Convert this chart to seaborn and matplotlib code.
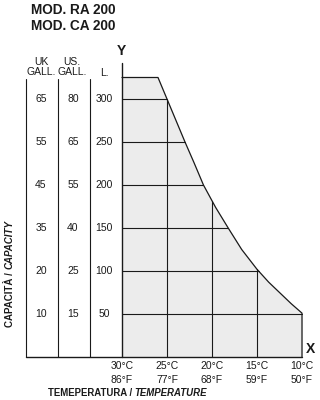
import numpy as np
import matplotlib
matplotlib.use("Agg")
import matplotlib.pyplot as plt
import seaborn as sns

sns.set_style("white")
plt.rcParams['font.family'] = ['Liberation Sans', 'DejaVu Sans']

# ---- data ----
titles = ["MOD. RA 200", "MOD. CA 200"]
temps_c = [30, 25, 20, 15, 10]
temps_f = [86, 77, 68, 59, 50]
litres = [300, 250, 200, 150, 100, 50]
uk_gall = [65, 55, 45, 35, 20, 10]
us_gall = [80, 65, 55, 40, 25, 15]
col_headers = ["UK\nGALL.", "US.\nGALL.", "L."]
# boundary of the capacity region (temperature °C, capacity L)
curve_temp = [30, 26, 25, 24, 23, 22, 20.95, 19.6, 18.2, 16.7, 15, 13.7, 12.4, 11.2, 10, 10]
curve_cap = [325, 325, 300, 275, 250, 226, 200, 174, 150, 125, 102, 87, 74, 62, 51, 0]

W, H = 320, 400
fig = plt.figure(figsize=(W / 100, H / 100), dpi=100)
ax = fig.add_axes([0, 0, 1, 1])

def px2c(px):
    return 30 - (px - 122) / 9.0

def py2l(py):
    return (357 - py) / 0.86

ax.set_xlim(px2c(0), px2c(W))
ax.set_ylim(py2l(H), py2l(0))
ax.axis("off")

ink = "#1a1a1a"
fill_c = "#ececec"

# shaded region
ax.fill_betweenx(curve_cap, curve_temp, 30, color=fill_c, lw=0, zorder=1)

# grid inside region
ct = np.array(curve_temp)
cc = np.array(curve_cap)
for L in litres:
    idx = np.argsort(cc[1:-1])
    tx = np.interp(L, cc[1:-1][idx], ct[1:-1][idx])
    ax.plot([30, tx], [L, L], color=ink, lw=0.8, zorder=2)
for T in temps_c[1:-1]:
    idx = np.argsort(ct[1:-1])
    top = np.interp(T, ct[1:-1][idx], cc[1:-1][idx])
    ax.plot([T, T], [0, top], color=ink, lw=0.8, zorder=2)

# outline
sns.lineplot(x=curve_temp, y=curve_cap, sort=False, estimator=None,
             color=ink, lw=0.9, ax=ax, zorder=3)

# axes lines
ax.plot([30, 30], [0, py2l(63)], color=ink, lw=1.0, zorder=4)
ax.plot([px2c(26), 10], [0, 0], color=ink, lw=1.0, zorder=4)

# table columns
col_x_px = [26, 58, 90]
for cx in col_x_px:
    ax.plot([px2c(cx), px2c(cx)], [0, py2l(79)], color=ink, lw=0.8, zorder=4)

col_centers_px = [41, 73, 104]
for cpx, vals in zip(col_centers_px, [uk_gall, us_gall, litres]):
    for L, v in zip(litres, vals):
        ax.text(px2c(cpx), L, str(v), ha="center", va="center",
                fontsize=7.5, color=ink)

# headers
fig.text(41 / W, 1 - 67 / H, col_headers[0], ha="center", va="center",
         fontsize=7.5, color=ink, linespacing=1.05)
fig.text(72 / W, 1 - 67 / H, col_headers[1], ha="center", va="center",
         fontsize=7.5, color=ink, linespacing=1.05)
fig.text(104 / W, 1 - 73 / H, col_headers[2], ha="center", va="center",
         fontsize=7.5, color=ink)

# titles
fig.text(31 / W, 1 - 10 / H, titles[0], ha="left", va="center",
         fontsize=9.8, fontweight="bold", color=ink)
fig.text(31 / W, 1 - 26 / H, titles[1], ha="left", va="center",
         fontsize=9.8, fontweight="bold", color=ink)

# axis letters
fig.text(121 / W, 1 - 51 / H, "Y", ha="center", va="center",
         fontsize=10, fontweight="bold", color=ink)
fig.text(311 / W, 1 - 349 / H, "X", ha="center", va="center",
         fontsize=10, fontweight="bold", color=ink)

# x tick labels
for tc, tf in zip(temps_c, temps_f):
    ax.text(tc, py2l(366), f"{tc}°C", ha="center", va="center",
            fontsize=7.5, color=ink)
    ax.text(tc, py2l(380), f"{tf}°F", ha="center", va="center",
            fontsize=7.5, color=ink)

# x label (mixed style)
t1 = fig.text(48 / W, 1 - 393 / H, "TEMEPERATURA / ", ha="left", va="center",
              fontsize=6.9, fontweight="bold", color=ink)
ax.annotate("TEMPERATURE", xy=(1, 0.5), xycoords=t1, ha="left", va="center",
            fontsize=6.9, fontweight="bold", fontstyle="italic", color=ink)

# y label (mixed style, rotated)
t2 = fig.text(10 / W, 1 - 327 / H, "CAPACITÀ / ", ha="center", va="bottom",
              rotation=90, fontsize=7.0, fontweight="bold", color=ink)
ax.annotate("CAPACITY", xy=(0.5, 1), xycoords=t2, ha="center", va="bottom",
            rotation=90, fontsize=7.0, fontweight="bold", fontstyle="italic",
            color=ink)

fig.savefig("out.png", dpi=100, facecolor="white")
